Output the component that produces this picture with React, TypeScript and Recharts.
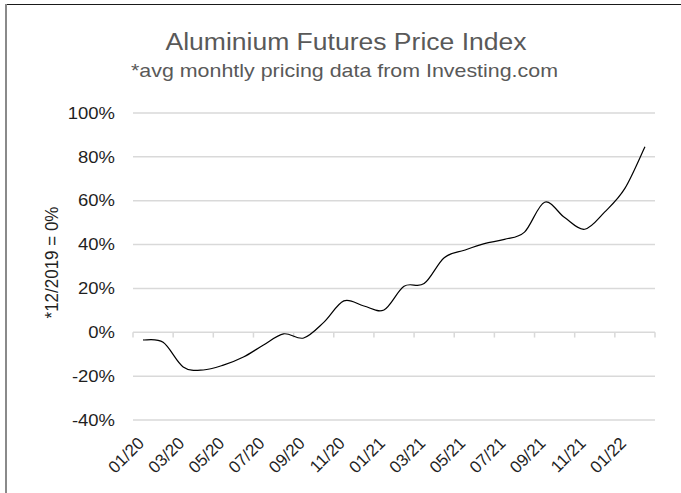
import React from 'react';
import { LineChart, Line, XAxis, YAxis, CartesianGrid, ReferenceLine } from 'recharts';

// monthly labels, 01/20 .. 02/22
const months = [
  '01/20', '02/20', '03/20', '04/20', '05/20', '06/20', '07/20', '08/20', '09/20', '10/20', '11/20', '12/20',
  '01/21', '02/21', '03/21', '04/21', '05/21', '06/21', '07/21', '08/21', '09/21', '10/21', '11/21', '12/21',
  '01/22', '02/22',
];

// % change vs 12/2019
const priceIndex = [
  -3.5, -4.6, -15.8, -17.2, -15.0, -11.3, -5.8, -0.7, -2.6, 4.5, 14.3, 12.0,
  10.2, 21.0, 22.2, 34.0, 37.4, 40.4, 42.4, 45.7, 59.3, 52.3, 47.0, 54.9,
  65.6, 84.6,
];

const yTicks = [-40, -20, 0, 20, 40, 60, 80, 100];
const xLabelTicks = [0, 2, 4, 6, 8, 10, 12, 14, 16, 18, 20, 22, 24];

const data = months.map((m, i) => ({ i, month: m, value: priceIndex[i] }));

// tick marks sit on the category boundaries, every 2 months
const boundaryTicks = [...xLabelTicks.map(t => t - 0.5), months.length - 0.5];

const FONT = '"Liberation Sans", Arial, sans-serif';
const SX = 1.12; // y tick text in the source is a bit wide
const GRID = '#d9d9d9';

// Excel-like smoothed line (Catmull-Rom as cubic beziers)
const excelSmooth = (context: any) => {
  let pts: number[][] = [];
  return {
    areaStart() {},
    areaEnd() {},
    lineStart() { pts = []; },
    point(x: number, y: number) { pts.push([+x, +y]); },
    lineEnd() {
      if (!pts.length) return;
      context.moveTo(pts[0][0], pts[0][1]);
      for (let k = 0; k < pts.length - 1; k++) {
        const p0 = pts[k - 1] || pts[k];
        const p1 = pts[k];
        const p2 = pts[k + 1];
        const p3 = pts[k + 2] || p2;
        context.bezierCurveTo(
          p1[0] + (p2[0] - p0[0]) / 6, p1[1] + (p2[1] - p0[1]) / 6,
          p2[0] - (p3[0] - p1[0]) / 6, p2[1] - (p3[1] - p1[1]) / 6,
          p2[0], p2[1],
        );
      }
    },
  };
};

const YTick = ({ x, y, payload }: any) => (
  <text
    transform={`translate(${x},${y}) scale(${SX},1)`}
    textAnchor="end"
    dy="0.35em"
    fill="#1f1f1f"
    fontSize={16.5}
    fontFamily={FONT}
  >
    {payload.value}%
  </text>
);

const XTick = ({ x, y, payload }: any) => (
  <text
    transform={`translate(${x - 2},${y}) rotate(-45)`}
    textAnchor="end"
    dy="0.35em"
    fill="#1f1f1f"
    fontSize={17}
    fontFamily={FONT}
  >
    {months[payload.value]}
  </text>
);

const App: React.FC = () => {
  return (
    <div style={{ position: 'fixed', left: 0, top: 0, width: 681, height: 493, overflow: 'hidden', background: '#fff' }}>
      <LineChart
        width={681}
        height={493}
        data={data}
        margin={{ top: 113, right: 26, bottom: 13, left: 0 }}
      >
        <CartesianGrid horizontal vertical={false} stroke={GRID} strokeWidth={1.5} />
        <XAxis
          dataKey="i"
          type="number"
          domain={[-0.5, months.length - 0.5]}
          ticks={xLabelTicks}
          interval={0}
          height={60}
          axisLine={false}
          tickLine={false}
          tickSize={0}
          tickMargin={20}
          tick={<XTick />}
        />
        <YAxis
          domain={[-40, 100]}
          ticks={yTicks}
          width={133}
          axisLine={false}
          tickLine={false}
          tickSize={0}
          tickMargin={18}
          tick={<YTick />}
        />
        {boundaryTicks.map(t => (
          <ReferenceLine
            key={t}
            segment={[{ x: t, y: 0 }, { x: t, y: -2.4 }]}
            stroke={GRID}
            strokeWidth={1.5}
          />
        ))}
        <Line
          dataKey="value"
          type={excelSmooth as any}
          stroke="#000"
          strokeWidth={1.2}
          dot={false}
          activeDot={false}
          isAnimationActive={false}
        />
      </LineChart>

      <svg width={681} height={493} style={{ position: 'absolute', left: 0, top: 0, pointerEvents: 'none' }}>
        <text x={346} y={50} textAnchor="middle" fontSize={23.5} fontFamily={FONT} fill="#595959"
          textLength={361} lengthAdjust="spacingAndGlyphs">
          Aluminium Futures Price Index
        </text>
        <text x={344.5} y={77} textAnchor="middle" fontSize={19} fontFamily={FONT} fill="#595959"
          textLength={427} lengthAdjust="spacingAndGlyphs">
          *avg monhtly pricing data from Investing.com
        </text>
        <text
          transform={`translate(52,262.5) scale(${SX},1) rotate(-90)`}
          textAnchor="middle"
          dominantBaseline="central"
          fontSize={17}
          fontFamily={FONT}
          fill="#1f1f1f"
        >
          *12/2019 = 0%
        </text>
      </svg>

      {/* outer chart border, only top and left are in frame */}
      <div style={{ position: 'absolute', left: 5, top: 4, width: 676, height: 1, background: '#1a1a1a', zIndex: 5 }} />
      <div style={{ position: 'absolute', left: 5, top: 4, width: 2, height: 489, background: '#8a8a8a', zIndex: 5 }} />
    </div>
  );
};

export default App;
